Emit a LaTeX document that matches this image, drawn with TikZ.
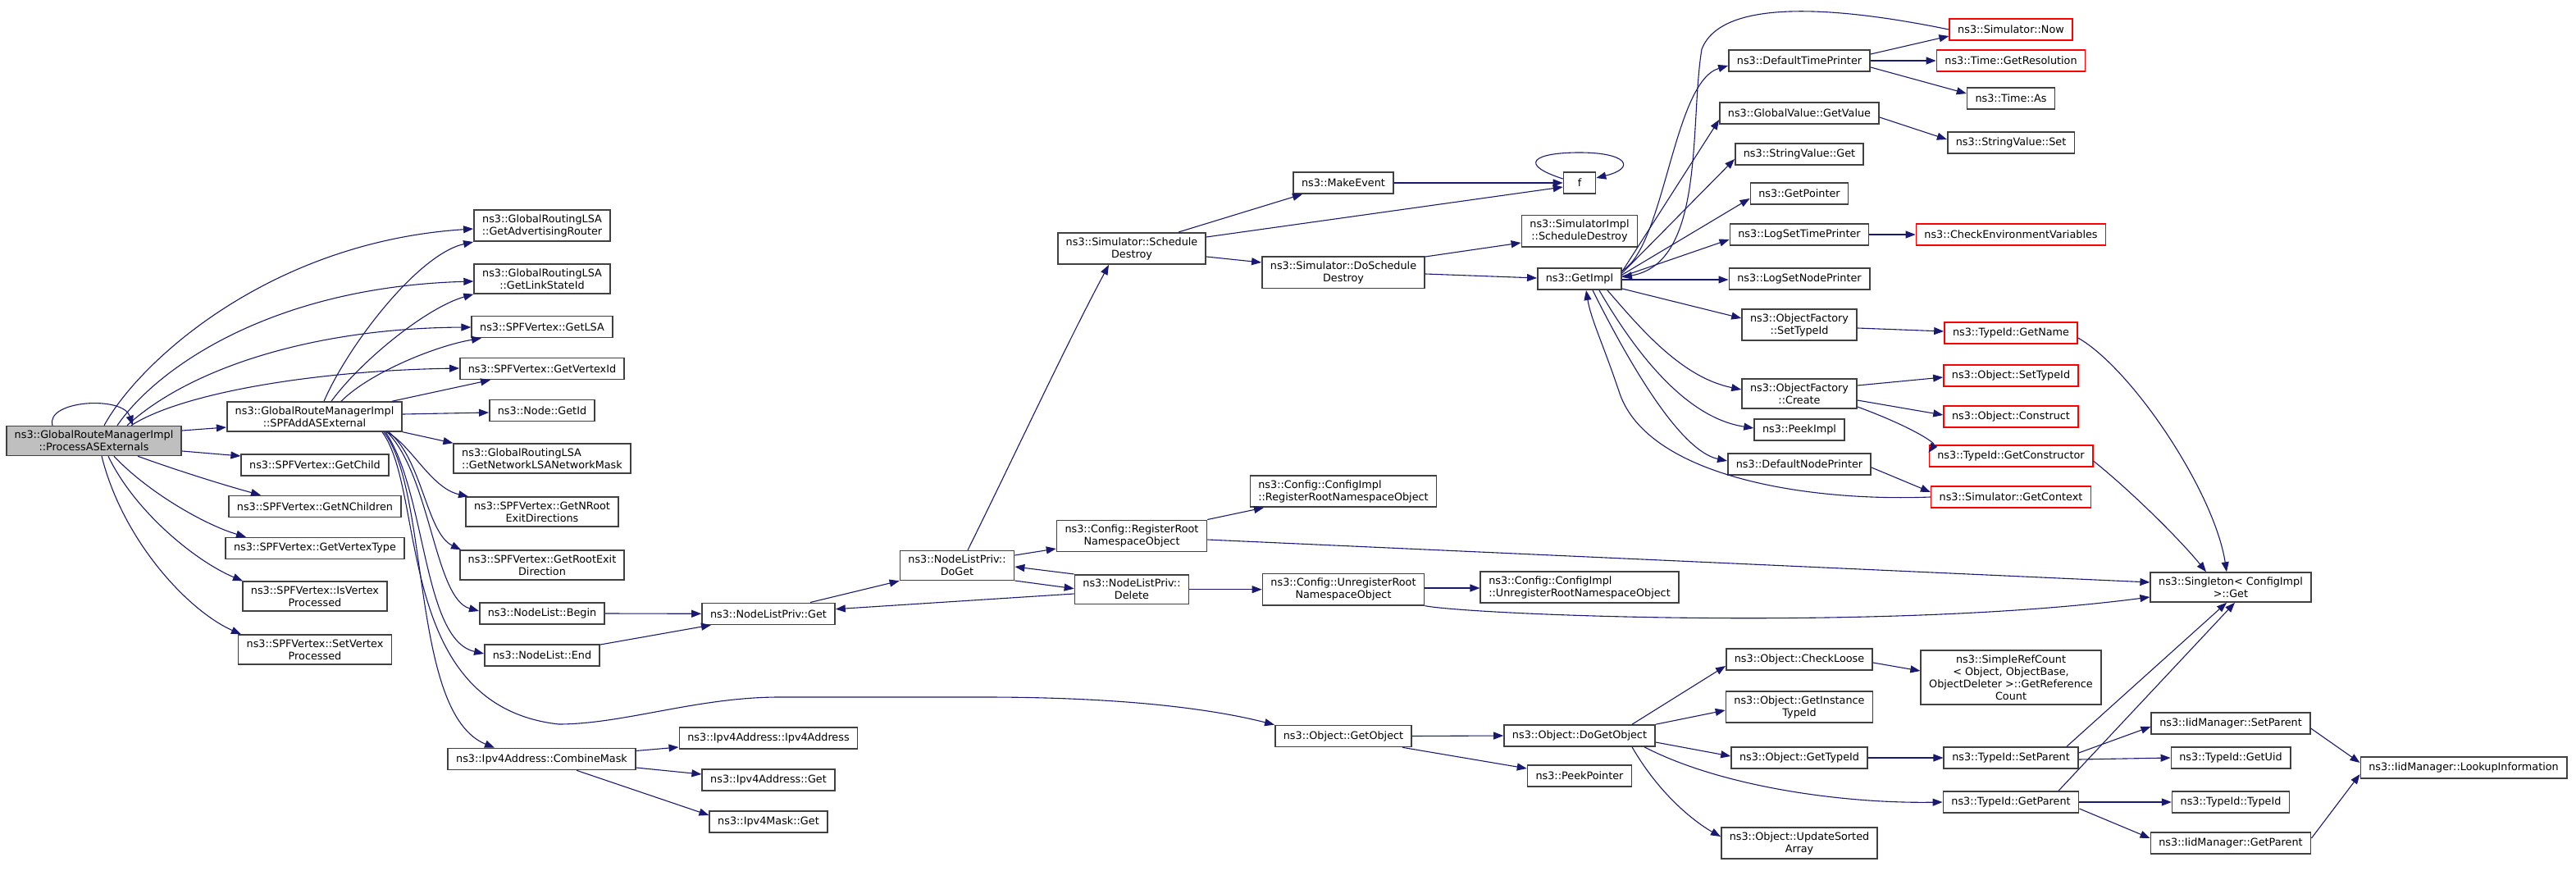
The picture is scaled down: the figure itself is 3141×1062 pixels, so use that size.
\documentclass[tikz,border=0pt]{standalone}
\usepackage{fontspec}
\newfontfamily\dvs{DejaVu Sans}
\usetikzlibrary{arrows.meta}
\definecolor{edgeblue}{HTML}{191970}
\definecolor{boxgray}{HTML}{404040}
\definecolor{rootgray}{HTML}{BFBFBF}
\definecolor{boxred}{HTML}{FF0000}
\tikzset{
  fn/.style={draw=boxgray, line width=1.6pt, fill=white, font={\dvs\fontsize{12.8pt}{15pt}\selectfont},
    inner xsep=10pt, inner ysep=5.5pt, minimum height=26pt, align=center},
  fnl/.style={fn, align=left},
  fnred/.style={fn, draw=boxred},
  rootfn/.style={fn, fill=rootgray},
  ed/.style={draw=edgeblue, line width=1.1pt, -{Triangle[length=12pt,width=9pt]}},
}
\begin{document}
\begin{tikzpicture}[x=1pt,y=-1pt]
\useasboundingbox (0,0) rectangle (3141,1062);
% column 1-2
\node[rootfn] (A) at (114.5,537.5) {ns3::GlobalRouteManagerImpl\\::ProcessASExternals};
\node[fn] (B) at (383.5,508) {ns3::GlobalRouteManagerImpl\\::SPFAddASExternal};
\node[fn] (gch) at (384,567) {ns3::SPFVertex::GetChild};
\node[fn] (gnc) at (384,617.5) {ns3::SPFVertex::GetNChildren};
\node[fn] (gvt) at (384,668.5) {ns3::SPFVertex::GetVertexType};
\node[fn] (ivp) at (384,727) {ns3::SPFVertex::IsVertex\\Processed};
\node[fn] (svp) at (384,792) {ns3::SPFVertex::SetVertex\\Processed};
% column 3
\node[fn] (gar) at (661,275) {ns3::GlobalRoutingLSA\\::GetAdvertisingRouter};
\node[fn] (glsi) at (661,340) {ns3::GlobalRoutingLSA\\::GetLinkStateId};
\node[fn] (glsa) at (661,398.5) {ns3::SPFVertex::GetLSA};
\node[fn] (gvid) at (661,449.5) {ns3::SPFVertex::GetVertexId};
\node[fn] (nid) at (661,500.5) {ns3::Node::GetId};
\node[fnl] (gnm) at (661,559) {ns3::GlobalRoutingLSA\\::GetNetworkLSANetworkMask};
\node[fn] (gnre) at (661,624) {ns3::SPFVertex::GetNRoot\\ExitDirections};
\node[fn] (gre) at (661,689) {ns3::SPFVertex::GetRootExit\\Direction};
\node[fn] (nlb) at (661,748) {ns3::NodeList::Begin};
\node[fn] (nle) at (661,799) {ns3::NodeList::End};
\node[fn] (cm) at (660.5,925.5) {ns3::Ipv4Address::CombineMask};
% column 4
\node[fn] (nlpg) at (937,748.3) {ns3::NodeListPriv::Get};
\node[fn] (ipa) at (937,900) {ns3::Ipv4Address::Ipv4Address};
\node[fn] (ipg) at (937,951) {ns3::Ipv4Address::Get};
\node[fn] (ipm) at (937,1002) {ns3::Ipv4Mask::Get};
% column 5-6
\node[fn] (dog) at (1167,689.5) {ns3::NodeListPriv::\\DoGet};
\node[fn] (sd) at (1380,303) {ns3::Simulator::Schedule\\Destroy};
\node[fn] (rr) at (1380,653.5) {ns3::Config::RegisterRoot\\NamespaceObject};
\node[fn] (del) at (1380,718.7) {ns3::NodeListPriv::\\Delete};
% column 7
\node[fn] (me) at (1638,223) {ns3::MakeEvent};
\node[fn] (dsd) at (1638,332.3) {ns3::Simulator::DoSchedule\\Destroy};
\node[fnl] (cir) at (1638,599) {ns3::Config::ConfigImpl\\::RegisterRootNamespaceObject};
\node[fn] (ur) at (1638,718.7) {ns3::Config::UnregisterRoot\\NamespaceObject};
\node[fn] (go) at (1638,897.5) {ns3::Object::GetObject};
% column 8
\node[fn, minimum width=39pt] (f) at (1926,223) {f};
\node[fn] (sisd) at (1926,281.7) {ns3::SimulatorImpl\\::ScheduleDestroy};
\node[fn] (gi) at (1926,340.2) {ns3::GetImpl};
\node[fnl] (ciu) at (1926,716) {ns3::Config::ConfigImpl\\::UnregisterRootNamespaceObject};
\node[fn] (dgo) at (1926,897) {ns3::Object::DoGetObject};
\node[fn] (pp) at (1926,946) {ns3::PeekPointer};
% column 9
\node[fn] (dtp) at (2194,74) {ns3::DefaultTimePrinter};
\node[fn] (gvv) at (2194,138) {ns3::GlobalValue::GetValue};
\node[fn] (svg) at (2194,188) {ns3::StringValue::Get};
\node[fn] (gp) at (2194,236) {ns3::GetPointer};
\node[fn] (lstp) at (2194,286) {ns3::LogSetTimePrinter};
\node[fn] (lsnp) at (2194,340) {ns3::LogSetNodePrinter};
\node[fn] (ofs) at (2194,396) {ns3::ObjectFactory\\::SetTypeId};
\node[fn] (ofc) at (2194,480) {ns3::ObjectFactory\\::Create};
\node[fn] (pi) at (2194,524) {ns3::PeekImpl};
\node[fn] (dnp) at (2194,566) {ns3::DefaultNodePrinter};
\node[fn] (cl) at (2194,804) {ns3::Object::CheckLoose};
\node[fn] (giti) at (2194,862) {ns3::Object::GetInstance\\TypeId};
\node[fn] (ogt) at (2194,924) {ns3::Object::GetTypeId};
\node[fn] (usa) at (2194,1028) {ns3::Object::UpdateSorted\\Array};
% column 10
\node[fnred] (now) at (2452,36) {ns3::Simulator::Now};
\node[fnred] (gres) at (2452,74) {ns3::Time::GetResolution};
\node[fn] (tas) at (2452,120) {ns3::Time::As};
\node[fn] (svs) at (2452,174) {ns3::StringValue::Set};
\node[fnred] (cev) at (2452,286) {ns3::CheckEnvironmentVariables};
\node[fnred] (tgn) at (2452,406) {ns3::TypeId::GetName};
\node[fnred] (ost) at (2452,458) {ns3::Object::SetTypeId};
\node[fnred] (ocn) at (2452,508) {ns3::Object::Construct};
\node[fnred] (tgc) at (2452,556) {ns3::TypeId::GetConstructor};
\node[fnred] (gctx) at (2452,606) {ns3::Simulator::GetContext};
\node[fn] (src) at (2452,826) {ns3::SimpleRefCount\\< Object, ObjectBase,\\ ObjectDeleter >::GetReference\\Count};
\node[fn] (tsp) at (2452,924) {ns3::TypeId::SetParent};
\node[fn] (tgp) at (2452,978) {ns3::TypeId::GetParent};
% column 11-12
\node[fn] (sg) at (2720,716) {ns3::Singleton< ConfigImpl\\ >::Get};
\node[fn] (isp) at (2720,882) {ns3::IidManager::SetParent};
\node[fn] (tgu) at (2720,924) {ns3::TypeId::GetUid};
\node[fn] (tti) at (2720,978) {ns3::TypeId::TypeId};
\node[fn] (igp) at (2720,1028) {ns3::IidManager::GetParent};
\node[fn] (li) at (3004,936) {ns3::IidManager::LookupInformation};

% ---- edges from A
\draw[ed] (A.north -| 64,0) .. controls (55,488) and (150,482) .. (A.north -| 162,0);
\draw[ed] (A.east |- 0,525) -- (B.west |- 0,521);
\draw[ed] (A.east |- 0,550) -- (gch.west |- 0,556);
\draw[ed] (A.south -| 168,0) .. controls (220,575) and (275,592) .. (gnc.north -| 318,0);
\draw[ed] (A.south -| 139,0) .. controls (180,600) and (250,640) .. (gvt.north -| 300,0);
\draw[ed] (A.south -| 132,0) .. controls (165,625) and (240,685) .. (ivp.north -| 296,0);
\draw[ed] (A.south -| 124,0) .. controls (150,660) and (230,745) .. (svp.north -| 294,0);
\draw[ed] (A.north -| 127,0) .. controls (170,440) and (330,295) .. (gar.west |- 0,279);
\draw[ed] (A.north -| 143,0) .. controls (190,450) and (330,350) .. (glsi.west |- 0,343);
\draw[ed] (A.north -| 155,0) .. controls (230,450) and (380,400) .. (glsa.west |- 0,399);
\draw[ed] (A.north -| 160,0) .. controls (220,480) and (380,452) .. (gvid.west |- 0,449);
% ---- edges from B
\draw[ed] (B.north -| 395,0) .. controls (425,420) and (510,310) .. (gar.south west);
\draw[ed] (B.north -| 404,0) .. controls (440,440) and (520,375) .. (glsi.south west);
\draw[ed] (B.north -| 416,0) .. controls (450,455) and (530,422) .. (glsa.south -| 587,0);
\draw[ed] (B.north -| 478,0) -- (gvid.south -| 598,0);
\draw[ed] (B.east |- 0,505) -- (nid.west |- 0,503);
\draw[ed] (B.south east) -- (gnm.north west);
\draw[ed] (B.south -| 471,0) .. controls (500,540) and (525,595) .. (gnre.north -| 571,0);
\draw[ed] (B.south -| 474,0) .. controls (515,560) and (520,650) .. (gre.north -| 562,0);
\draw[ed] (B.south -| 472,0) .. controls (525,580) and (530,730) .. (nlb.west |- 0,745);
\draw[ed] (B.south -| 470,0) .. controls (520,600) and (515,780) .. (nle.west |- 0,797);
\draw[ed] (B.south -| 468,0) .. controls (525,600) and (500,870) .. (cm.north -| 603,0);
\draw[ed] (B.south -| 466,0) .. controls (520,600) and (480,860) .. (681,883)
   .. controls (760,883) and (850,850) .. (950,850) -- (1200,850)
   .. controls (1400,850) and (1500,870) .. (go.north west);
% ---- node list
\draw[ed] (nlb.east) -- (nlpg.west);
\draw[ed] (nle.east |- 0,786) -- (nlpg.south -| 867,0);
\draw[ed] (nlpg.north -| 988,0) -- (dog.south west);
\draw[ed] (dog.north -| 1180,0) .. controls (1230,570) and (1300,420) .. (sd.south -| 1352,0);
\draw[ed] (dog.east |- 0,677) -- (rr.west |- 0,669);
\draw[ed] (dog.east |- 0,708) -- (del.west |- 0,717.7);
\draw[ed] (del.west |- 0,700) -- (dog.east |- 0,691);
\draw[ed] (del.west |- 0,724) -- (nlpg.east |- 0,742.7);
\draw[ed] (rr.north east) -- (cir.south -| 1541,0);
\draw[ed] (rr.east |- 0,658) -- (sg.west |- 0,710);
\draw[ed] (del.east) -- (ur.west);
\draw[ed] (ur.east |- 0,717) -- (ciu.west |- 0,717);
\draw[ed] (ur.south east) .. controls (1800,750) and (2300,770) .. (sg.west |- 0,728);
% ---- simulator
\draw[ed] (sd.north -| 1437,0) -- (me.south -| 1588,0);
\draw[ed] (sd.east |- 0,289) -- (f.west |- 0,228);
\draw[ed] (sd.east |- 0,313) -- (dsd.west |- 0,320);
\draw[ed] (me.east) -- (f.west);
\draw[ed] (f.west |- 0,218) .. controls (1850,200) and (1870,186) .. (1926,186)
   .. controls (1985,186) and (1995,205) .. (f.east |- 0,217);
\draw[ed] (dsd.east |- 0,313) -- (sisd.west |- 0,296);
\draw[ed] (dsd.east |- 0,334) -- (gi.west |- 0,339);
% ---- GetImpl
\draw[ed] (gi.east |- 0,330) .. controls (2030,300) and (2040,100) .. (dtp.west |- 0,80);
\draw[ed] (gi.east |- 0,331) -- (gvv.west |- 0,146);
\draw[ed] (gi.east |- 0,333) -- (svg.west |- 0,194);
\draw[ed] (gi.east |- 0,335) -- (gp.west |- 0,242);
\draw[ed] (gi.east |- 0,337) -- (lstp.west |- 0,292);
\draw[ed] (gi.east |- 0,341) -- (lsnp.west |- 0,341);
\draw[ed] (gi.east |- 0,352) -- (ofs.west |- 0,388);
\draw[ed] (gi.south -| 1960,0) .. controls (2000,400) and (2050,460) .. (ofc.west |- 0,475);
\draw[ed] (gi.south -| 1950,0) .. controls (2000,440) and (2060,510) .. (pi.west |- 0,522);
\draw[ed] (gi.south -| 1942,0) .. controls (1990,450) and (2050,550) .. (dnp.west |- 0,562);
\draw[ed] (now.west) .. controls (2250,10) and (2100,-5) .. (2075,60)
   .. controls (2060,150) and (2080,320) .. (gi.east |- 0,338);
\draw[ed] (gctx.west) .. controls (2200,612) and (2010,580) .. (1975,480)
   .. controls (1955,420) and (1940,390) .. (gi.south -| 1934,0);
% ---- col 9 -> col 10
\draw[ed] (dtp.east |- 0,66) -- (now.west |- 0,44);
\draw[ed] (dtp.east) -- (gres.west);
\draw[ed] (dtp.east |- 0,82) -- (tas.west |- 0,114);
\draw[ed] (gvv.east |- 0,143) -- (svs.west |- 0,170);
\draw[ed] (lstp.east) -- (cev.west);
\draw[ed] (ofs.east |- 0,400) -- (tgn.west |- 0,404);
\draw[ed] (ofc.east |- 0,470) -- (ost.west |- 0,460);
\draw[ed] (ofc.east |- 0,488) -- (ocn.west |- 0,506);
\draw[ed] (ofc.east |- 0,496) .. controls (2330,520) and (2360,540) .. (tgc.west |- 0,552);
\draw[ed] (dnp.east |- 0,570) -- (gctx.west |- 0,600);
\draw[ed] (tgn.east |- 0,412) .. controls (2600,450) and (2700,600) .. (sg.north -| 2715,0);
\draw[ed] (tgc.east |- 0,562) .. controls (2600,600) and (2660,660) .. (sg.north -| 2690,0);
% ---- bottom
\draw[ed] (go.east) -- (dgo.west);
\draw[ed] (go.south -| 1710,0) -- (pp.west |- 0,937);
\draw[ed] (dgo.north -| 1990,0) -- (cl.west |- 0,812);
\draw[ed] (dgo.north east) -- (giti.west |- 0,866);
\draw[ed] (dgo.east |- 0,905) -- (ogt.west |- 0,922);
\draw[ed] (dgo.south -| 2005,0) .. controls (2100,960) and (2250,980) .. (tgp.west |- 0,978);
\draw[ed] (dgo.south -| 1990,0) .. controls (2030,980) and (2080,1010) .. (usa.west |- 0,1020);
\draw[ed] (cl.east |- 0,808) -- (src.west |- 0,818);
\draw[ed] (ogt.east) -- (tsp.west);
\draw[ed] (tsp.north -| 2520,0) -- (sg.south -| 2715,0);
\draw[ed] (tsp.east |- 0,918) -- (isp.west |- 0,886);
\draw[ed] (tsp.east |- 0,926) -- (tgu.west |- 0,924);
\draw[ed] (tgp.north -| 2510,0) -- (sg.south -| 2725,0);
\draw[ed] (tgp.east) -- (tti.west);
\draw[ed] (tgp.east |- 0,986) -- (igp.west |- 0,1022);
\draw[ed] (isp.east |- 0,888) -- (li.west |- 0,930);
\draw[ed] (igp.east |- 0,1022) -- (li.west |- 0,944);
\draw[ed] (cm.east |- 0,915.5) -- (ipa.west |- 0,911);
\draw[ed] (cm.east |- 0,936) -- (ipg.west |- 0,944);
\draw[ed] (cm.south -| 703,0) -- (ipm.west |- 0,994);
\end{tikzpicture}
\end{document}
